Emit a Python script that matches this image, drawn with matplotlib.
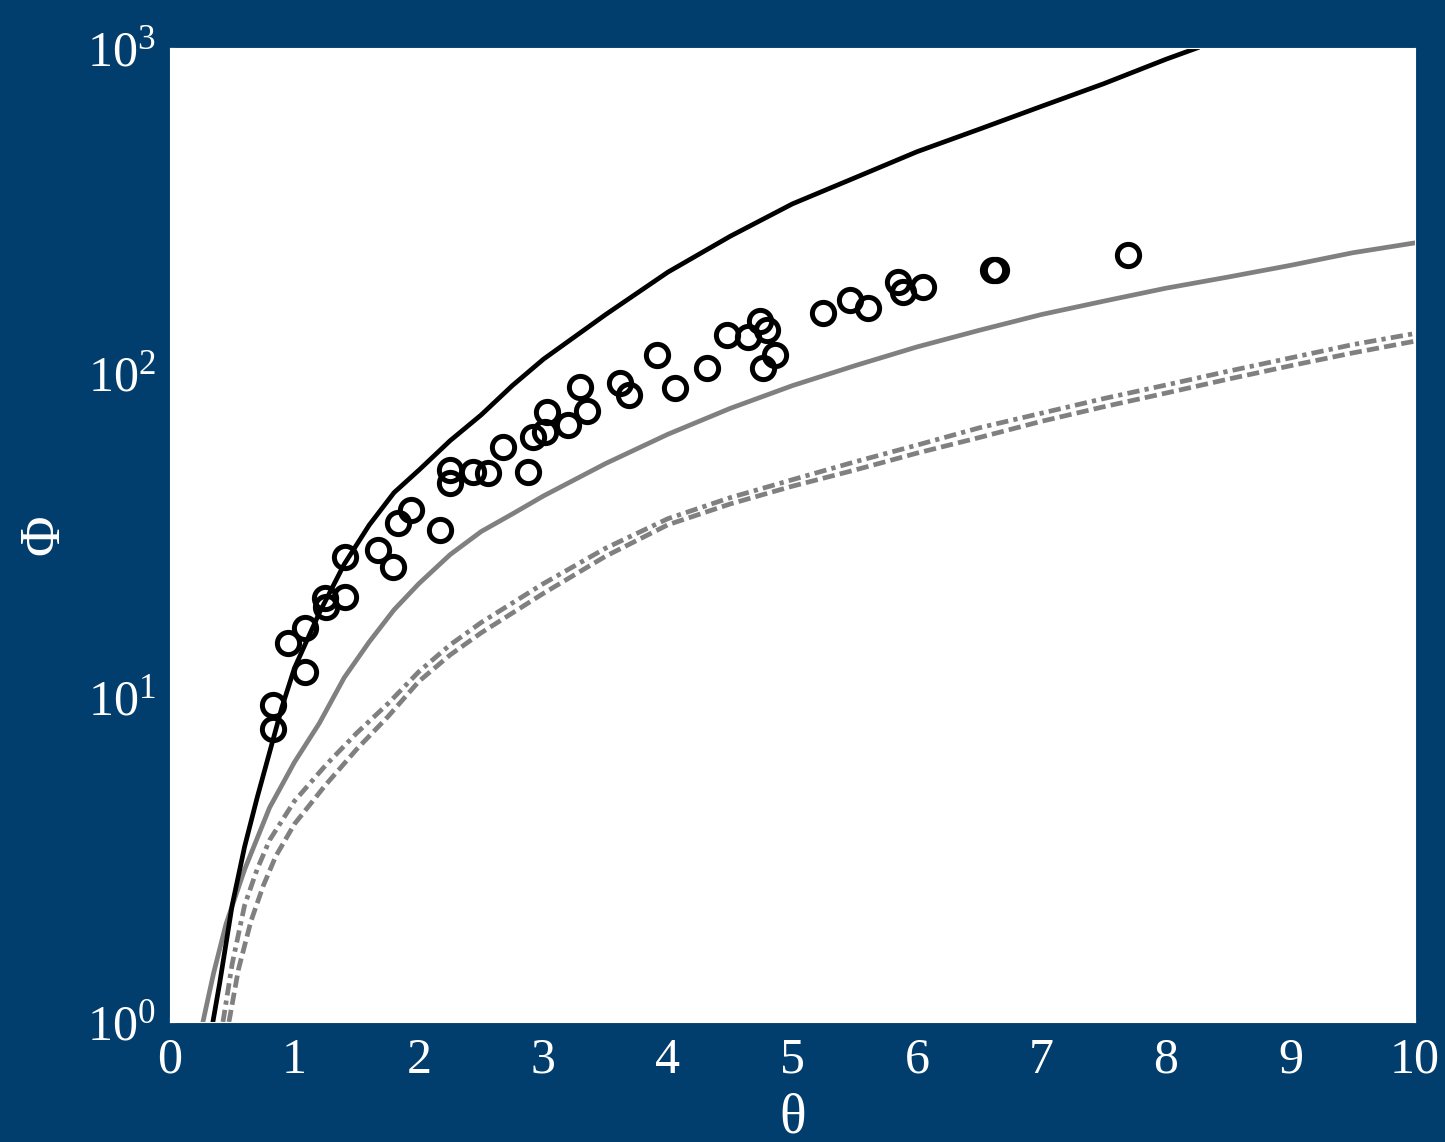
import matplotlib
matplotlib.use("Agg")
import matplotlib.pyplot as plt
from matplotlib import font_manager
import numpy as np

# make sure a Times-like serif is registered
for f in font_manager.findSystemFonts():
    if "LiberationSerif" in f.replace(" ", ""):
        font_manager.fontManager.addfont(f)

plt.rcParams["font.family"] = ["Liberation Serif", "DejaVu Serif"]
plt.rcParams["mathtext.fontset"] = "custom"
plt.rcParams["mathtext.rm"] = "Liberation Serif"
plt.rcParams["mathtext.it"] = "Liberation Serif:italic"

# observed points
obs_theta = [0.827, 0.827, 0.948, 1.084, 1.084, 1.245, 1.253, 1.406, 1.406, 1.671,
             1.791, 1.831, 1.936, 2.169, 2.249, 2.249, 2.434, 2.554, 2.675, 2.876,
             2.916, 3.012, 3.028, 3.197, 3.293, 3.349, 3.614, 3.687, 3.912, 4.056,
             4.313, 4.474, 4.643, 4.739, 4.795, 4.859, 4.763, 5.245, 5.462, 5.606,
             5.847, 5.888, 6.048, 6.610, 6.635, 7.695]
obs_phi = [8.0, 9.5, 14.7, 16.3, 12.0, 20.2, 19.0, 20.4, 27.0, 28.4,
           25.2, 34.4, 37.7, 32.7, 50.1, 45.7, 49.4, 49.1, 59.0, 49.4,
           63.4, 65.6, 75.6, 69.0, 90.3, 76.2, 92.9, 85.3, 113, 89.7,
           103, 131, 129, 144, 135, 113, 103, 153, 167, 158,
           190, 177, 183, 207, 207, 230]

# black solid curve
black_theta = [0.345, 0.4, 0.5, 0.6, 0.7, 0.8, 0.9, 1.0, 1.2, 1.4, 1.6, 1.8, 2.0,
               2.25, 2.5, 2.75, 3.0, 3.5, 4.0, 4.5, 5.0, 5.5, 6.0, 6.5, 7.0, 7.5,
               8.0, 8.25]
black_phi = [1.0, 1.32, 2.29, 3.47, 4.90, 6.76, 9.33, 12.3, 18.2, 25.7, 33.9, 42.7,
             50.1, 61.7, 74.1, 91.2, 110, 151, 204, 263, 331, 398, 479, 562, 661,
             776, 923, 1000]

# grey solid curve
grey_theta = [0.265, 0.35, 0.45, 0.6, 0.8, 1.0, 1.2, 1.4, 1.6, 1.8, 2.0, 2.25,
              2.5, 2.75, 3.0, 3.5, 4.0, 4.5, 5.0, 5.5, 6.0, 6.5, 7.0, 7.5, 8.0,
              8.5, 9.0, 9.5, 10.0]
grey_phi = [1.0, 1.41, 2.0, 2.95, 4.57, 6.31, 8.32, 11.5, 14.8, 18.6, 22.4, 27.5,
            32.4, 36.7, 41.7, 52.5, 64.6, 77.6, 91.2, 105, 120, 135, 151, 166,
            182, 197, 214, 234, 251]

# grey dash-dot curve
dashdot_theta = [0.426, 0.5, 0.6, 0.7, 0.8, 1.0, 1.25, 1.5, 1.75, 2.0, 2.25, 2.5,
                 3.0, 3.5, 4.0, 4.5, 5.0, 5.5, 6.0, 6.5, 7.0, 7.5, 8.0, 8.5, 9.0,
                 9.5, 10.0]
dashdot_phi = [1.0, 1.51, 2.29, 2.95, 3.63, 4.79, 6.17, 7.76, 9.55, 12.0, 14.5,
               17.0, 22.4, 28.8, 35.5, 41.2, 46.8, 53.1, 59.8, 67.6, 75.0, 83.2,
               91.6, 101, 111, 122, 132]

# grey dashed curve
dashed_theta = [0.474, 0.55, 0.65, 0.75, 0.85, 1.0, 1.25, 1.5, 1.75, 2.0, 2.25,
                2.5, 3.0, 3.5, 4.0, 4.5, 5.0, 5.5, 6.0, 6.5, 7.0, 7.5, 8.0, 8.5,
                9.0, 9.5, 10.0]
dashed_phi = [1.0, 1.45, 2.04, 2.63, 3.24, 4.07, 5.37, 6.92, 8.71, 11.2, 13.5,
              15.8, 20.9, 27.2, 34.0, 39.4, 44.7, 50.1, 56.5, 63.1, 70.8, 78.5,
              86.5, 95.5, 105, 115, 125]

x_ticks = list(range(0, 11))
y_ticks = [1, 10, 100, 1000]
y_tick_labels = [r"$\mathregular{10^{0}}$", r"$\mathregular{10^{1}}$",
                 r"$\mathregular{10^{2}}$", r"$\mathregular{10^{3}}$"]

bg = "#023e6d"
grey = "#808080"

fig = plt.figure(figsize=(14.45, 11.42), dpi=100, facecolor=bg)
ax = fig.add_axes([0.1176, 0.1051, 0.8616, 0.8529])
ax.set_facecolor("white")

lw = 3.4
ax.plot(grey_theta, grey_phi, color=grey, lw=lw)
ax.plot(dashdot_theta, dashdot_phi, color=grey, lw=lw, dashes=[2.6, 1.1, 0.9, 1.1])
ax.plot(dashed_theta, dashed_phi, color=grey, lw=lw, dashes=[2.6, 1.1])
ax.plot(black_theta, black_phi, color="black", lw=lw)
ax.plot(obs_theta, obs_phi, linestyle="none", marker="o", markersize=16,
        markerfacecolor="none", markeredgecolor="black", markeredgewidth=3.6,
        zorder=5)

ax.set_yscale("log")
ax.set_xlim(0, 10)
ax.set_ylim(1, 1000)
ax.set_xticks(x_ticks)
ax.set_yticks(y_ticks)
ax.set_yticklabels(y_tick_labels)
ax.yaxis.set_minor_locator(matplotlib.ticker.NullLocator())
ax.tick_params(axis="both", direction="in", color="white", labelcolor="white",
               labelsize=36)
ax.tick_params(axis="x", pad=11)
ax.tick_params(axis="y", pad=10)
for sp in ax.spines.values():
    sp.set_color("white")

ax.set_xlabel("θ", color="white", fontsize=40, labelpad=6)
ax.set_ylabel("Φ", color="white", fontsize=40, labelpad=12)

fig.savefig("out.png", dpi=100, facecolor=bg)
